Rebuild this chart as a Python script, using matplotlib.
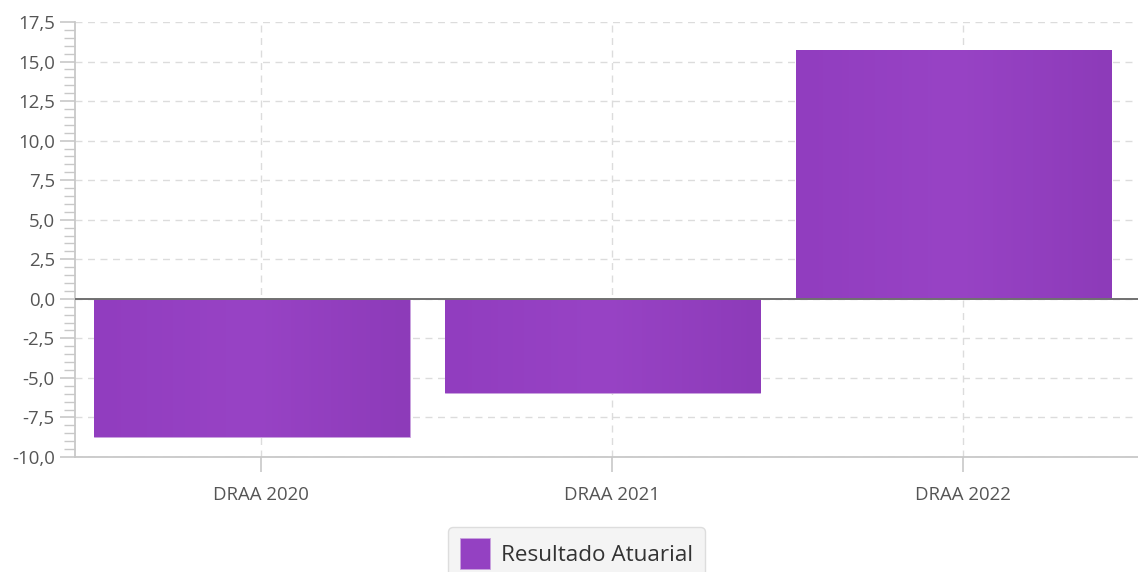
import matplotlib
matplotlib.use("Agg")
import matplotlib.pyplot as plt
import numpy as np
from matplotlib.colors import LinearSegmentedColormap
from matplotlib.ticker import MultipleLocator, FuncFormatter

# Resultado atuarial por DRAA
categories = ["DRAA 2020", "DRAA 2021", "DRAA 2022"]
values = [-8.73, -5.98, 15.74]
series_name = "Resultado Atuarial"

plt.rcParams["font.family"] = ["Open Sans", "DejaVu Sans"]

fig = plt.figure(figsize=(11.38, 5.72), dpi=100)
ax = fig.add_axes([75 / 1138, 1 - 457 / 572, 1 - 75 / 1138, (457 - 22) / 572])

bar_color = "#9441c2"
x = np.arange(len(categories))
bars = ax.bar(x - 0.026, values, width=0.899, color=bar_color, edgecolor="#c9a3de",
              linewidth=0.6, label=series_name, zorder=3)

# soft horizontal shading inside each bar
shade = LinearSegmentedColormap.from_list(
    "shade", ["#913dbf", "#9843c5", "#8d3bb9"])
grad = np.linspace(0, 1, 256).reshape(1, -1)
for b in bars:
    x0, y0 = b.get_x(), b.get_y()
    w, h = b.get_width(), b.get_height()
    im = ax.imshow(grad, cmap=shade, aspect="auto", interpolation="bilinear",
                   extent=(x0, x0 + w, min(y0, y0 + h), max(y0, y0 + h)),
                   zorder=3.5)
    im.set_clip_path(b)

ax.set_xlim(-0.53, 2.5)
ax.set_ylim(-10, 17.5)
ax.yaxis.set_major_locator(MultipleLocator(2.5))
ax.yaxis.set_minor_locator(MultipleLocator(0.5))
ax.yaxis.set_major_formatter(FuncFormatter(lambda v, p: f"{v:.1f}".replace(".", ",")))
ax.set_xticks(x)
ax.set_xticklabels(categories)

# Grid lines
ax.grid(True, which="major", axis="both", color="#dcdcdc", linestyle=(0, (5, 4)),
        linewidth=1.0, zorder=0)
ax.axhline(0, color="#707070", linewidth=1.4, zorder=4)

for side in ("top", "right"):
    ax.spines[side].set_visible(False)
for side in ("left", "bottom"):
    ax.spines[side].set_color("#c8c8c8")
    ax.spines[side].set_linewidth(1.3)

ax.tick_params(axis="y", which="major", length=11, width=1.2, color="#c8c8c8",
               labelsize=13.4, labelcolor="#555555", pad=3.5)
ax.tick_params(axis="y", which="minor", length=8, width=1.0, color="#c8c8c8")
ax.tick_params(axis="x", which="major", length=11, width=1.2, color="#c8c8c8",
               labelsize=13.4, labelcolor="#555555", pad=10)

leg = fig.legend(loc="upper center", bbox_to_anchor=(576.5 / 1138, 1 - 527 / 572),
                 fontsize=16.2, frameon=True, fancybox=True, handlelength=1.36,
                 handleheight=1.715, borderpad=0.5, handletextpad=0.49,
                 borderaxespad=0)
frame = leg.get_frame()
frame.set_facecolor("#f4f4f4")
frame.set_edgecolor("#dddddd")
frame.set_alpha(1)
for t in leg.get_texts():
    t.set_color("#333333")

fig.savefig("out.png", dpi=100)
